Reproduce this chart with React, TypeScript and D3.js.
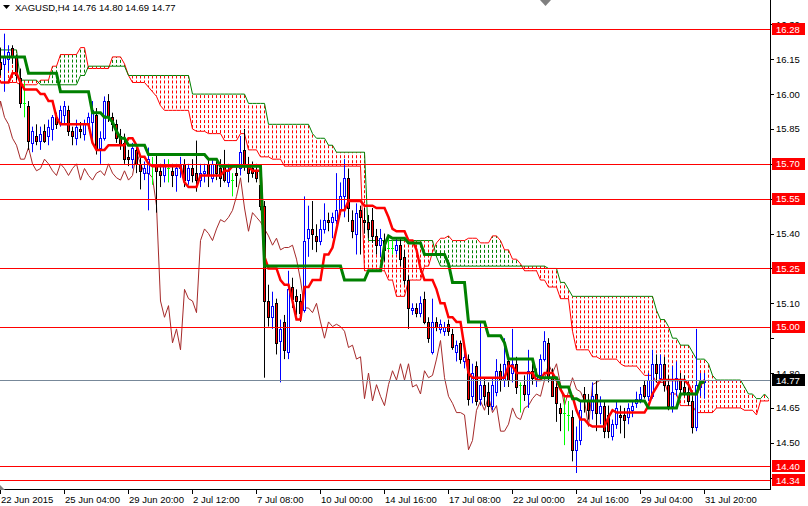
import * as d3 from "d3";

const symbolTitle = "XAGUSD,H4";
const lastQuote = [14.76, 14.8, 14.69, 14.77];

// open, high, low, close for every H4 bar on screen
const bars: [number, number, number, number][] = [
  [16.14, 16.2, 16.08, 16.11], [16.13, 16.26, 16.01, 16.16], [16.15, 16.21, 16.1, 16.18], [16.2, 16.21, 16.13, 16.16],
  [16.16, 16.17, 16.06, 16.08], [16.07, 16.11, 15.94, 15.96], [15.96, 16.05, 15.9, 15.96], [15.95, 15.97, 15.76, 15.8],
  [15.79, 15.86, 15.75, 15.84], [15.82, 15.87, 15.78, 15.8], [15.8, 15.86, 15.76, 15.83], [15.84, 15.87, 15.79, 15.8],
  [15.82, 15.89, 15.78, 15.86], [15.85, 15.91, 15.8, 15.9], [15.9, 15.92, 15.85, 15.87], [15.88, 15.95, 15.86, 15.93],
  [15.91, 15.97, 15.87, 15.95], [15.93, 15.95, 15.82, 15.84], [15.84, 15.86, 15.78, 15.82], [15.81, 15.89, 15.78, 15.86],
  [15.85, 15.88, 15.81, 15.84], [15.83, 15.89, 15.8, 15.87], [15.87, 15.92, 15.85, 15.9], [15.88, 15.97, 15.8, 15.93],
  [15.91, 15.94, 15.74, 15.77], [15.77, 15.84, 15.7, 15.81], [15.81, 15.99, 15.8, 15.97], [15.97, 16.0, 15.88, 15.9],
  [15.9, 15.92, 15.84, 15.87], [15.87, 15.89, 15.79, 15.81], [15.82, 15.85, 15.76, 15.78], [15.79, 15.83, 15.7, 15.72],
  [15.73, 15.76, 15.69, 15.72], [15.72, 15.79, 15.68, 15.77], [15.76, 15.78, 15.66, 15.7], [15.7, 15.73, 15.59, 15.67],
  [15.66, 15.71, 15.63, 15.68], [15.66, 15.77, 15.5, 15.72], [15.7, 15.73, 15.61, 15.7], [15.7, 15.74, 15.49, 15.67],
  [15.67, 15.7, 15.6, 15.65], [15.65, 15.72, 15.62, 15.7], [15.68, 15.72, 15.62, 15.68], [15.67, 15.7, 15.6, 15.65],
  [15.65, 15.7, 15.58, 15.68], [15.68, 15.73, 15.64, 15.7], [15.7, 15.72, 15.6, 15.63], [15.63, 15.7, 15.61, 15.68],
  [15.68, 15.72, 15.62, 15.65], [15.66, 15.8, 15.58, 15.63], [15.63, 15.7, 15.6, 15.66], [15.66, 15.7, 15.62, 15.67],
  [15.7, 15.72, 15.6, 15.65], [15.64, 15.72, 15.62, 15.7], [15.7, 15.72, 15.63, 15.66], [15.68, 15.72, 15.6, 15.64],
  [15.7, 15.76, 15.62, 15.63], [15.62, 15.7, 15.6, 15.67], [15.63, 15.66, 15.56, 15.63], [15.66, 15.69, 15.6, 15.65],
  [15.68, 15.82, 15.65, 15.75], [15.76, 15.85, 15.67, 15.7], [15.7, 15.73, 15.62, 15.66], [15.68, 15.71, 15.64, 15.66],
  [15.67, 15.7, 15.62, 15.64], [15.61, 15.63, 15.5, 15.52], [15.52, 15.54, 14.78, 15.11], [15.11, 15.18, 15.0, 15.04],
  [15.04, 15.15, 14.99, 15.09], [15.1, 15.12, 14.88, 14.93], [14.94, 15.03, 14.76, 14.99], [15.02, 15.05, 14.86, 14.9],
  [14.89, 15.24, 14.86, 15.16], [15.17, 15.21, 15.08, 15.12], [15.13, 15.16, 15.05, 15.11], [15.11, 15.14, 15.02, 15.06],
  [15.07, 15.56, 15.06, 15.37], [15.38, 15.52, 15.3, 15.42], [15.42, 15.54, 15.33, 15.4], [15.39, 15.44, 15.32, 15.37],
  [15.37, 15.46, 15.35, 15.42], [15.42, 15.53, 15.4, 15.46], [15.46, 15.49, 15.41, 15.45], [15.45, 15.49, 15.38, 15.47],
  [15.46, 15.66, 15.44, 15.5], [15.5, 15.62, 15.48, 15.56], [15.56, 15.72, 15.47, 15.64], [15.64, 15.68, 15.45, 15.51],
  [15.46, 15.5, 15.38, 15.41], [15.4, 15.53, 15.31, 15.49], [15.5, 15.52, 15.31, 15.47], [15.46, 15.51, 15.4, 15.45],
  [15.45, 15.48, 15.38, 15.42], [15.46, 15.51, 15.36, 15.39], [15.39, 15.42, 15.31, 15.35], [15.35, 15.42, 15.3, 15.38],
  [15.37, 15.4, 15.28, 15.33], [15.34, 15.38, 15.33, 15.34], [15.34, 15.37, 15.31, 15.34], [15.33, 15.38, 15.31, 15.35],
  [15.35, 15.38, 15.26, 15.29], [15.3, 15.33, 15.18, 15.2], [15.2, 15.22, 14.99, 15.08], [15.07, 15.1, 15.05, 15.08],
  [15.08, 15.1, 15.04, 15.06], [15.06, 15.13, 15.04, 15.1], [15.12, 15.15, 15.01, 15.02], [15.02, 15.04, 14.93, 14.95],
  [14.89, 15.12, 14.88, 15.02], [15.02, 15.04, 14.98, 15.0], [14.99, 15.03, 14.97, 15.01], [14.98, 15.02, 14.96, 15.0],
  [15.01, 15.03, 14.96, 14.98], [14.97, 14.99, 14.9, 14.91], [14.89, 14.94, 14.85, 14.92], [14.93, 14.94, 14.84, 14.86],
  [14.85, 14.9, 14.82, 14.87], [14.86, 14.88, 14.66, 14.69], [14.7, 14.84, 14.67, 14.8], [14.83, 14.85, 14.66, 14.68],
  [14.69, 15.02, 14.66, 14.75], [14.75, 14.78, 14.66, 14.7], [14.72, 14.76, 14.62, 14.66], [14.66, 14.78, 14.64, 14.75],
  [14.72, 14.86, 14.7, 14.81], [14.81, 14.84, 14.72, 14.77], [14.77, 14.95, 14.74, 14.84], [14.85, 14.87, 14.74, 14.77],
  [14.8, 14.99, 14.76, 14.84], [14.84, 14.87, 14.71, 14.74], [14.75, 14.76, 14.63, 14.75], [14.75, 14.79, 14.68, 14.71],
  [14.71, 14.9, 14.65, 14.81], [14.81, 14.84, 14.75, 14.78], [14.78, 14.82, 14.74, 14.79], [14.79, 14.88, 14.77, 14.86],
  [14.86, 14.98, 14.85, 14.94], [14.93, 14.95, 14.76, 14.78], [14.78, 14.82, 14.7, 14.7], [14.74, 14.76, 14.59, 14.67],
  [14.65, 14.67, 14.55, 14.63], [14.63, 14.7, 14.49, 14.63], [14.62, 14.68, 14.55, 14.62], [14.61, 14.64, 14.42, 14.47],
  [14.47, 14.57, 14.37, 14.51], [14.51, 14.68, 14.49, 14.64], [14.71, 14.74, 14.63, 14.68], [14.68, 14.71, 14.6, 14.64],
  [14.64, 14.76, 14.6, 14.7], [14.71, 14.77, 14.55, 14.63], [14.63, 14.7, 14.58, 14.66], [14.66, 14.68, 14.52, 14.55],
  [14.62, 14.66, 14.52, 14.55], [14.53, 14.6, 14.51, 14.58], [14.58, 14.68, 14.56, 14.65], [14.62, 14.66, 14.54, 14.61],
  [14.62, 14.65, 14.52, 14.6], [14.61, 14.67, 14.58, 14.65], [14.64, 14.68, 14.61, 14.66], [14.67, 14.72, 14.65, 14.69],
  [14.69, 14.74, 14.67, 14.71], [14.75, 14.77, 14.69, 14.7], [14.7, 14.8, 14.68, 14.77], [14.7, 14.9, 14.69, 14.84],
  [14.84, 14.88, 14.76, 14.8], [14.78, 14.88, 14.76, 14.84], [14.84, 14.87, 14.72, 14.75], [14.75, 14.79, 14.64, 14.66],
  [14.66, 14.83, 14.63, 14.72], [14.73, 14.85, 14.7, 14.78], [14.77, 14.8, 14.7, 14.73], [14.74, 14.79, 14.7, 14.72],
  [14.72, 14.76, 14.66, 14.68], [14.68, 14.7, 14.54, 14.57], [14.57, 14.99, 14.55, 14.75], [14.74, 14.8, 14.7, 14.76],
  [14.76, 14.8, 14.69, 14.77],
];

// ichimoku lines as [first bar, value] steps
const tenkanSteps: [number, number][] = [
  [0, 16.05], [3, 16.09], [5, 16.05], [6, 16.02], [10, 16.0], [12, 15.97], [14, 15.9], [15, 15.87], [23, 15.79],
  [24, 15.76], [27, 15.78], [32, 15.81], [34, 15.78], [35, 15.73], [37, 15.7], [38, 15.69], [46, 15.62], [47, 15.6],
  [50, 15.65], [56, 15.67], [58, 15.69], [63, 15.67], [66, 15.3], [67, 15.25], [70, 15.2], [71, 15.18], [73, 15.11],
  [74, 15.03], [76, 15.17], [78, 15.2], [81, 15.31], [83, 15.34], [84, 15.42], [85, 15.5], [87, 15.54], [91, 15.52],
  [94, 15.51], [97, 15.47], [98, 15.42], [99, 15.41], [102, 15.37], [104, 15.33], [105, 15.25], [106, 15.2],
  [109, 15.16], [110, 15.1], [112, 15.04], [114, 15.02], [116, 14.91], [117, 14.8], [118, 14.78], [127, 14.83],
  [129, 14.8], [134, 14.77], [136, 14.8], [139, 14.77], [140, 14.73], [141, 14.7], [144, 14.64], [145, 14.6],
  [147, 14.58], [148, 14.57], [152, 14.61], [153, 14.64], [154, 14.63], [162, 14.66], [163, 14.71], [164, 14.74],
  [165, 14.77], [172, 14.75], [173, 14.71], [175, 14.75], [176, 14.77],
];

const kijunSteps: [number, number][] = [
  [0, 16.16], [7, 16.09], [15, 16.01], [23, 15.92], [26, 15.9], [28, 15.88], [29, 15.84], [30, 15.81], [32, 15.78],
  [37, 15.74], [52, 15.72], [55, 15.69], [66, 15.26], [86, 15.2], [92, 15.24], [96, 15.35], [97, 15.39], [98, 15.38],
  [102, 15.36], [106, 15.31], [112, 15.27], [113, 15.19], [117, 15.02], [122, 14.96], [126, 14.93], [127, 14.86],
  [134, 14.79], [135, 14.78], [140, 14.74], [143, 14.69], [145, 14.68], [162, 14.65], [170, 14.71], [175, 14.76],
];

const spanASteps: [number, number][] = [
  [0, 16.05], [5, 16.04], [10, 16.06], [13, 16.12], [15, 16.17], [20, 16.2], [22, 16.11], [28, 16.16], [31, 16.13],
  [32, 16.08], [33, 16.05], [37, 16.03], [38, 16.01], [39, 15.99], [40, 15.95], [41, 15.93], [48, 15.85], [49, 15.84],
  [52, 15.83], [56, 15.8], [60, 15.83], [62, 15.76], [65, 15.73], [68, 15.72], [71, 15.69], [91, 15.24], [97, 15.2],
  [99, 15.13], [102, 15.2], [106, 15.26], [108, 15.32], [109, 15.36], [110, 15.38], [112, 15.39], [113, 15.37],
  [117, 15.38], [120, 15.36], [123, 15.39], [125, 15.37], [126, 15.33], [128, 15.29], [130, 15.27], [131, 15.24],
  [135, 15.2], [137, 15.17], [140, 15.12], [143, 14.98], [144, 14.9], [148, 14.87], [150, 14.86], [155, 14.84],
  [156, 14.83], [160, 14.81], [161, 14.79], [164, 14.76], [167, 14.71], [170, 14.66], [174, 14.63], [179, 14.65],
  [186, 14.64], [189, 14.62], [190, 14.68],
];

const spanBSteps: [number, number][] = [
  [0, 16.19], [5, 16.06], [10, 16.04], [20, 16.08], [22, 16.12], [32, 16.08], [48, 16.0], [62, 15.96], [67, 15.87],
  [78, 15.83], [79, 15.81], [82, 15.78], [84, 15.75], [92, 15.37], [109, 15.3], [110, 15.26], [137, 15.25],
  [140, 15.19], [142, 15.16], [143, 15.13], [164, 15.07], [165, 15.03], [167, 15.0], [168, 14.95], [170, 14.92],
  [173, 14.89], [174, 14.86], [177, 14.84], [178, 14.79], [179, 14.77], [186, 14.74], [187, 14.71], [189, 14.69],
  [191, 14.71], [192, 14.69],
];

const levels = [16.28, 15.7, 15.55, 15.25, 15.0, 14.4, 14.34];
const bid = 14.77;
const priceTicks = ["16.30", "16.15", "16.00", "15.85", "15.70", "15.55", "15.40", "15.25", "15.10", "14.95", "14.80", "14.65", "14.50", "14.35"];
const timeLabels: [number, string][] = [
  [0, "22 Jun 2015"], [16, "25 Jun 04:00"], [32, "29 Jun 20:00"], [48, "2 Jul 12:00"], [64, "7 Jul 08:00"],
  [80, "10 Jul 00:00"], [96, "14 Jul 16:00"], [112, "17 Jul 08:00"], [128, "22 Jul 00:00"], [144, "24 Jul 16:00"],
  [160, "29 Jul 04:00"], [176, "31 Jul 20:00"],
];
const cloudBars = 193;
const chikouShift = 26;

function expand(steps: [number, number][], n: number) {
  return d3.range(n).map((i) => {
    let v = steps[0][1];
    for (const [s, val] of steps) if (s <= i) v = val;
    return v;
  });
}

export default function App() {
  const plotR = 770, plotB = 490;
  const x = d3.scaleLinear().domain([0, 192]).range([0, 768]);
  const y = d3.scaleLinear().domain([14.34, 16.28]).range([480, 29]);
  const py = (v: number) => Math.round(y(v)) + 0.5;

  const tenkan = expand(tenkanSteps, bars.length);
  const kijun = expand(kijunSteps, bars.length);
  const spanA = expand(spanASteps, cloudBars);
  const spanB = expand(spanBSteps, cloudBars);

  const line = d3.line<number>().x((_, i) => x(i) + 0.5).y((d) => y(d));
  const chikou = d3.line<[number, number]>().x((d) => x(d[0]) + 0.5).y((d) => y(d[1]));
  const chikouPts: [number, number][] = bars
    .map((b, i) => [i - chikouShift, b[3]] as [number, number])
    .filter((d) => d[0] >= -1);

  // price boxes on the axis hide the tick labels under them
  const boxes = [...levels, bid];
  const boxTops = boxes.map((v) => Math.round(y(v)) - 6);
  const tickShown = priceTicks
    .map((t) => {
      const ty = y(+t);
      const near = boxes.map((v) => y(v) - ty).filter((d) => Math.abs(d) < 12);
      if (near.some((d) => Math.abs(d) < 4)) return null;
      const cut = near.length ? Math.min(...near.map((d) => ty + d - 6)) : null;
      return { t, ty, cut };
    })
    .filter((d) => d !== null) as { t: string; ty: number; cut: number | null }[];

  const font = "'Liberation Sans', Arial, sans-serif";

  return (
    <svg width={808} height={506} style={{ position: "absolute", left: 0, top: 0, background: "#fff" }} fontFamily={font}>
      <defs>
        <clipPath id="plot">
          <rect x={0} y={0} width={plotR} height={plotB} />
        </clipPath>
        {tickShown.filter((d) => d.cut !== null).map((d) => (
          <clipPath key={"cp" + d.t} id={"cut" + d.t.replace(".", "")}>
            <rect x={plotR} y={0} width={40} height={Math.round(d.cut as number)} />
          </clipPath>
        ))}
      </defs>
      <rect x={0} y={0} width={808} height={506} fill="#fff" />
      <g clipPath="url(#plot)">
        {/* cloud hatch */}
        {spanA.map((a, i) => {
          const b = spanB[i];
          const top = Math.min(y(a), y(b));
          const bot = Math.max(y(a), y(b));
          if (bot - top < 1) return null;
          return (
            <line key={"h" + i} x1={x(i) + 0.5} x2={x(i) + 0.5} y1={top} y2={bot}
              stroke={a > b ? "#008000" : "#ff0000"} strokeWidth={1}
              strokeDasharray="3 2" strokeDashoffset={Math.round(top) % 5} />
          );
        })}
        <path d={line(spanA) ?? ""} fill="none" stroke="#ff0000" strokeWidth={1} />
        <path d={line(spanB) ?? ""} fill="none" stroke="#008000" strokeWidth={1} />
        <path d={chikou(chikouPts) ?? ""} fill="none" stroke="#a52a2a" strokeWidth={1} />

        {/* candles */}
        {bars.map(([o, h, l, c], i) => {
          const cx = x(i);
          if (o === c) {
            return (
              <g key={"c" + i} stroke="#00ff00">
                <line x1={cx + 0.5} x2={cx + 0.5} y1={y(h)} y2={y(l)} />
                <line x1={cx - 1} x2={cx + 2} y1={py(o)} y2={py(o)} />
              </g>
            );
          }
          const up = c > o;
          const top = Math.round(y(Math.max(o, c)));
          const bot = Math.round(y(Math.min(o, c)));
          return (
            <g key={"c" + i}>
              <line x1={cx + 0.5} x2={cx + 0.5} y1={y(h)} y2={y(l)} stroke={up ? "#0000ff" : "#000"} />
              <rect x={cx - 0.5} y={top + 0.5} width={2} height={Math.max(bot - top, 1)}
                fill={up ? "#fff" : "#ff0000"} stroke={up ? "#0000ff" : "#000"} strokeWidth={1} />
            </g>
          );
        })}

        <path d={line(tenkan) ?? ""} fill="none" stroke="#ff0000" strokeWidth={2.5} />
        <path d={line(kijun) ?? ""} fill="none" stroke="#008000" strokeWidth={3} />

        {levels.map((v) => (
          <line key={"l" + v} x1={0} x2={plotR} y1={py(v)} y2={py(v)} stroke="#ff0000" />
        ))}
        <line x1={0} x2={plotR} y1={py(bid)} y2={py(bid)} stroke="#778899" />
      </g>

      {/* axes */}
      <line x1={plotR + 0.5} x2={plotR + 0.5} y1={0} y2={plotB} stroke="#000" />
      <line x1={0} x2={plotR + 1} y1={plotB - 0.5} y2={plotB - 0.5} stroke="#000" />
      {priceTicks.map((t) => (
        <line key={"tk" + t} x1={plotR} x2={plotR + 4} y1={py(+t)} y2={py(+t)} stroke="#000" />
      ))}
      {tickShown.map((d) => (
        <text key={"t" + d.t} x={plotR + 6} y={d.ty + 3.5} fontSize={9.5} fill="#000"
          clipPath={d.cut !== null ? `url(#cut${d.t.replace(".", "")})` : undefined}>{d.t}</text>
      ))}
      {boxes.map((v, k) => (
        <g key={"b" + v}>
          <rect x={plotR + 2} y={boxTops[k]} width={33} height={12} fill={v === bid ? "#000" : "#ff0000"} />
          <text x={plotR + 6} y={y(v) + 3.5} fontSize={9.5} fill="#fff">{v.toFixed(2)}</text>
        </g>
      ))}

      {timeLabels.map(([i, t]) => (
        <g key={"x" + i}>
          <line x1={x(i) + 0.5} x2={x(i) + 0.5} y1={plotB} y2={plotB + 4} stroke="#000" />
          <text x={x(i) + 1} y={plotB + 13} fontSize={9.5} fill="#000">{t}</text>
        </g>
      ))}

      {/* header and shift markers */}
      <polygon points="3,5 10,5 6.5,9" fill="#000" />
      <text x={15} y={11} fontSize={9.5} fill="#000">
        {symbolTitle}{"  "}{lastQuote.map((v) => v.toFixed(2)).join(" ")}
      </text>
      <polygon points="540,0 551,0 545.5,6" fill="#808080" />
      <polygon points="0,485 0,490 5,490" fill="#808080" />
    </svg>
  );
}
